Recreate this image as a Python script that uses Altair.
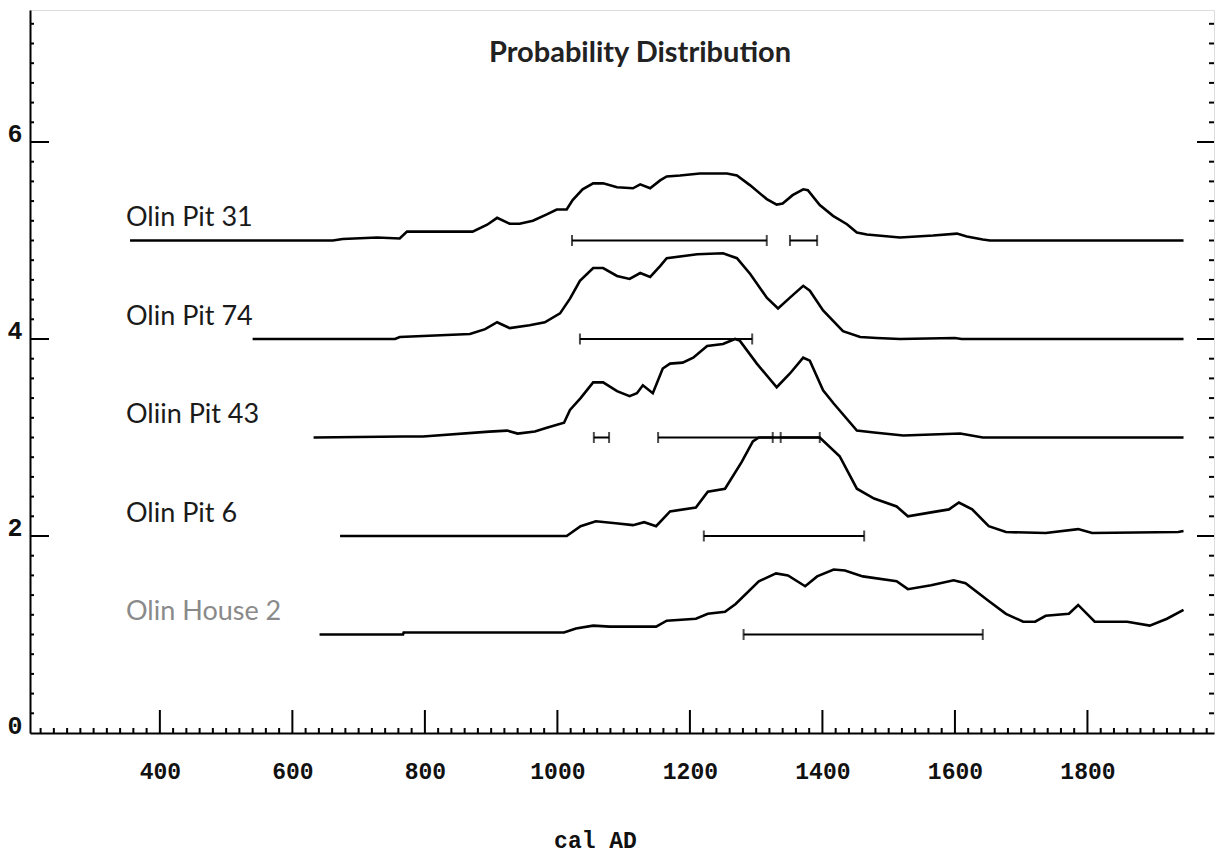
import altair as alt
import pandas as pd

# ---------------- data ----------------
names = ["Olin Pit 31", "Olin Pit 74", "Oliin Pit 43", "Olin Pit 6", "Olin House 2"]
baselines = [5, 4, 3, 2, 1]
label_colors = ["#1a1a1a", "#1a1a1a", "#1a1a1a", "#1a1a1a", "#8a8a8a"]

pit31_year = [355, 661, 676, 728, 762, 773, 782, 872, 894, 909, 928, 943, 963, 984, 999, 1014, 1023, 1038,
              1054, 1069, 1090, 1114, 1125, 1140, 1155, 1165, 1185, 1215, 1256, 1271, 1291, 1316, 1331, 1340,
              1355, 1371, 1378, 1396, 1416, 1437, 1452, 1467, 1517, 1567, 1603, 1618, 1642, 1653, 1945]
pit31_h = [0, 0, 0.015, 0.03, 0.02, 0.09, 0.09, 0.09, 0.16, 0.23, 0.17, 0.17, 0.20, 0.265, 0.315, 0.315, 0.41,
           0.52, 0.58, 0.58, 0.54, 0.53, 0.57, 0.53, 0.61, 0.65, 0.66, 0.68, 0.68, 0.66, 0.56, 0.42, 0.365,
           0.375, 0.46, 0.52, 0.51, 0.36, 0.25, 0.165, 0.08, 0.06, 0.03, 0.05, 0.07, 0.04, 0.01, 0, 0]

pit74_year = [540, 755, 762, 868, 891, 909, 928, 958, 981, 1004, 1019, 1034, 1054, 1069, 1090, 1109, 1125,
              1140, 1155, 1165, 1211, 1250, 1271, 1291, 1316, 1333, 1351, 1371, 1381, 1401, 1431, 1457, 1482,
              1517, 1600, 1610, 1945]
pit74_h = [0, 0, 0.02, 0.05, 0.10, 0.17, 0.11, 0.14, 0.17, 0.26, 0.41, 0.59, 0.72, 0.72, 0.64, 0.61, 0.67,
           0.63, 0.74, 0.82, 0.86, 0.87, 0.82, 0.66, 0.42, 0.31, 0.42, 0.54, 0.49, 0.29, 0.08, 0.02, 0.01,
           0, 0.01, 0, 0]

pit43_year = [632, 767, 797, 897, 924, 940, 966, 984, 1010, 1019, 1035, 1054, 1069, 1090, 1109, 1120, 1129,
              1144, 1159, 1170, 1189, 1205, 1226, 1250, 1268, 1275, 1301, 1331, 1351, 1371, 1381, 1401, 1417,
              1452, 1478, 1522, 1608, 1642, 1945]
pit43_h = [0, 0.01, 0.01, 0.06, 0.07, 0.04, 0.06, 0.10, 0.15, 0.28, 0.40, 0.56, 0.56, 0.47, 0.42, 0.45, 0.53,
           0.45, 0.70, 0.75, 0.76, 0.81, 0.93, 0.95, 1.0, 0.985, 0.75, 0.51, 0.65, 0.81, 0.78, 0.48, 0.345,
           0.07, 0.05, 0.02, 0.04, 0, 0]

pit6_year = [672, 1014, 1035, 1058, 1088, 1114, 1131, 1149, 1170, 1209, 1227, 1253, 1278, 1295, 1304, 1351,
             1396, 1426, 1452, 1478, 1512, 1529, 1564, 1591, 1606, 1626, 1651, 1677, 1737, 1786, 1807, 1937,
             1945]
pit6_h = [0, 0, 0.10, 0.15, 0.13, 0.11, 0.14, 0.10, 0.25, 0.29, 0.45, 0.48, 0.75, 0.96, 1.0, 1.0, 1.0, 0.81,
          0.48, 0.38, 0.30, 0.20, 0.24, 0.27, 0.34, 0.27, 0.10, 0.04, 0.03, 0.07, 0.03, 0.04, 0.05]

house2_year = [641, 767, 768, 1010, 1028, 1054, 1079, 1149, 1165, 1209, 1227, 1253, 1269, 1304, 1330, 1348,
               1374, 1392, 1417, 1434, 1461, 1512, 1529, 1564, 1598, 1616, 1651, 1677, 1703, 1721, 1737, 1772,
               1786, 1811, 1860, 1894, 1920, 1945]
house2_h = [0, 0, 0.02, 0.02, 0.06, 0.09, 0.08, 0.08, 0.14, 0.16, 0.21, 0.23, 0.31, 0.54, 0.62, 0.60, 0.49,
            0.59, 0.66, 0.65, 0.59, 0.54, 0.46, 0.50, 0.55, 0.52, 0.34, 0.21, 0.13, 0.13, 0.19, 0.21, 0.30,
            0.13, 0.13, 0.09, 0.16, 0.25]

# highest-probability ranges (cal AD)
range_series = ["Olin Pit 31", "Olin Pit 31", "Olin Pit 74", "Oliin Pit 43", "Oliin Pit 43", "Oliin Pit 43",
                "Olin Pit 6", "Olin House 2"]
range_lo = [1022, 1351, 1034, 1055, 1152, 1337, 1221, 1281]
range_hi = [1316, 1392, 1294, 1078, 1325, 1396, 1463, 1642]

x_major = [400, 600, 800, 1000, 1200, 1400, 1600, 1800]
x_minor = [y for y in range(220, 1991, 20) if y % 200 != 0]
y_major = [2, 4, 6]
y_minor = [round(0.2 * i, 1) for i in range(1, 37) if i % 10 != 0]

# ---------------- tables ----------------
years = [pit31_year, pit74_year, pit43_year, pit6_year, house2_year]
heights = [pit31_h, pit74_h, pit43_h, pit6_h, house2_h]
rows = []
for n, b, ys, hs in zip(names, baselines, years, heights):
    for yr, h in zip(ys, hs):
        rows.append({"series": n, "year": yr, "value": b + h})
curves = pd.DataFrame(rows)

base_of = dict(zip(names, baselines))
ranges = pd.DataFrame({"series": range_series, "lo": range_lo, "hi": range_hi})
ranges["base"] = ranges["series"].map(base_of)
caps = pd.DataFrame({"series": range_series * 2, "x": range_lo + range_hi})
caps["base"] = caps["series"].map(base_of)
labels = pd.DataFrame({"series": names, "base": baselines})

W, H = 1184, 723
XDOM = [204, 1991]
YDOM = [0, 7.34]
xs = alt.Scale(domain=XDOM, nice=False, zero=False)
ys_ = alt.Scale(domain=YDOM, nice=False, zero=False)
MONO = "Liberation Mono"

x_axis = alt.Axis(values=x_major, ticks=False, tickSize=0, grid=False, domainColor="black", domainWidth=2,
                  labelFont=MONO, labelFontSize=23, labelFontWeight="bold", labelColor="#111", labelPadding=45,
                  labelBaseline="alphabetic", format="d", title="cal AD", titleFont=MONO,
                  titleFontSize=23, titleFontWeight="bold", titleColor="#111",
                  titleX=565, titleY=114, titleAlign="center", titleBaseline="alphabetic")
y_axis = alt.Axis(values=[0, 2, 4, 6], ticks=False, tickSize=0, grid=False, domainColor="black", domainWidth=2,
                  labelFont=MONO, labelFontSize=25, labelFontWeight="bold", labelColor="#111", labelPadding=8,
                  labelBaseline="alphabetic", format="d", title=None)

line = alt.Chart(curves).mark_line(color="black", strokeWidth=2.6, interpolate="linear").encode(
    x=alt.X("year:Q", scale=xs, axis=x_axis),
    y=alt.Y("value:Q", scale=ys_, axis=y_axis),
    detail="series:N",
    order="year:Q",
)

bars = alt.Chart(ranges).mark_rule(color="black", strokeWidth=2).encode(
    x=alt.X("lo:Q", scale=xs), x2="hi:Q", y=alt.Y("base:Q", scale=ys_)
)
cap_marks = alt.Chart(caps).mark_tick(color="black", orient="vertical", size=11, thickness=2).encode(
    x=alt.X("x:Q", scale=xs), y=alt.Y("base:Q", scale=ys_)
)

text = alt.Chart(labels).mark_text(align="left", baseline="middle", font="Lato", fontSize=27,
                                   yOffset=-22).encode(
    x=alt.value(96),
    y=alt.Y("base:Q", scale=ys_),
    text="series:N",
    color=alt.Color("series:N", scale=alt.Scale(domain=names, range=label_colors), legend=None),
)

def tick_layer(vals, field_axis, a, b, width=2):
    df = pd.DataFrame({"v": vals})
    if field_axis == "y":
        return alt.Chart(df).mark_rule(color="black", strokeWidth=width).encode(
            y=alt.Y("v:Q", scale=ys_), x=alt.value(a), x2=alt.value(b))
    return alt.Chart(df).mark_rule(color="black", strokeWidth=width).encode(
        x=alt.X("v:Q", scale=xs), y=alt.value(a), y2=alt.value(b))

ticks = [
    tick_layer(y_minor, "y", 0, 4),
    tick_layer(y_major, "y", 0, 19),
    tick_layer(y_minor, "y", W - 5, W),
    tick_layer(y_major, "y", W - 17, W),
    tick_layer(x_minor, "x", H, H - 5),
    tick_layer(x_major, "x", H, H - 23),
]

chart = alt.layer(line, bars, cap_marks, text, *ticks).properties(
    width=W, height=H,
    autosize=alt.AutoSizeParams(type="none"),
    padding={"left": 30, "top": 10, "right": 1, "bottom": 124},
    title=alt.TitleParams("Probability Distribution", font="Lato", fontSize=29, fontWeight="bold",
                          color="#222", anchor="middle", frame="group", dx=18, offset=-58),
).configure_view(stroke=None).configure(background="white")

chart.save("out.html", embed_options={"renderer": "svg", "actions": False})
